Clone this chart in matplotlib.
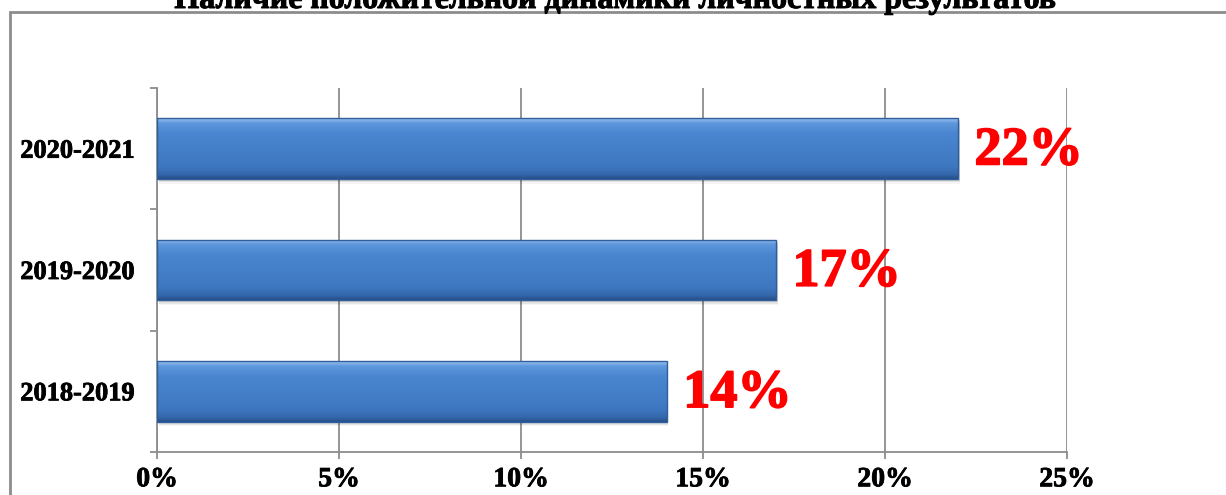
import numpy as np
import matplotlib
matplotlib.use("Agg")
import matplotlib.pyplot as plt
import matplotlib.patheffects as pe
from matplotlib.colors import LinearSegmentedColormap
from matplotlib.patches import Rectangle

# data
years = ["2018-2019", "2019-2020", "2020-2021"]
shares = [14, 17, 22]
x_ticks = [0, 5, 10, 15, 20, 25]
title = "Наличие положительной динамики личностных результатов"

plt.rcParams["font.family"] = ["Liberation Serif", "DejaVu Serif"]
plt.rcParams["font.weight"] = "bold"


def bold(lw, c="black"):
    # fake heavier strokes, the serif face comes out thin
    return [pe.withStroke(linewidth=lw, foreground=c)]


fig = plt.figure(figsize=(12.26, 4.95), dpi=100)

# outer chart frame (runs off the right and bottom of the picture)
fig.add_artist(Rectangle((10 / 1226, -0.1), 1.2, 1 - 12 / 495 + 0.1,
                         transform=fig.transFigure, fill=False,
                         edgecolor="#8c8c8c", linewidth=2))
fig.text(617 / 1226, 1 - 8 / 495, title, ha="center", va="baseline",
         fontsize=23, fontweight="bold", path_effects=bold(0.7))

ax = fig.add_axes([157 / 1226, 43 / 495, (1067 - 157) / 1226, (452 - 88) / 495])

pos = np.arange(len(years))
h = 0.5
bars = ax.barh(pos, shares, height=h, color="#3f7cc8", zorder=3)

# shaded look of the bars
grad = LinearSegmentedColormap.from_list(
    "bar", [(0, "#9cc3ef"), (0.08, "#5e97dc"), (0.25, "#4a86d0"),
            (0.8, "#3d77c0"), (0.93, "#3466aa"), (1, "#264f88")])
g = np.linspace(0, 1, 200).reshape(-1, 1)
for b, v, p in zip(bars, shares, pos):
    # soft shadow below
    for k, a in enumerate([0.10, 0.07, 0.04]):
        ax.add_patch(Rectangle((0.05, p - h / 2 - 0.015 - k * 0.012), v,
                               h, color="black", alpha=a, zorder=2,
                               linewidth=0))
    im = ax.imshow(g, cmap=grad, aspect="auto", zorder=4,
                   extent=(0, v, p - h / 2, p + h / 2))
    im.set_clip_path(b)
    ax.add_patch(Rectangle((0, p - h / 2), v, h, fill=False,
                           edgecolor="#2f5e9c", linewidth=1, zorder=5))
    ax.annotate(f"{v}%", xy=(v, p), xytext=(12, -2), textcoords="offset points",
                ha="left", va="center", color="red", fontsize=39,
                fontweight="bold", zorder=6, path_effects=bold(1.2, "red"))

ax.set_xlim(0, 25)
ax.set_ylim(-0.5, len(years) - 0.5)
ax.set_xticks(x_ticks)
ax.set_xticklabels([f"{t}%" for t in x_ticks], fontsize=20, fontweight="bold")
ax.set_yticks(pos)
ax.set_yticklabels(years, fontsize=19, fontweight="bold")
for t in ax.get_xticklabels() + ax.get_yticklabels():
    t.set_path_effects(bold(0.6))
ax.set_yticks(np.arange(len(years) + 1) - 0.5, minor=True)
ax.tick_params(axis="y", which="major", length=0, pad=16)
ax.tick_params(axis="y", which="minor", length=5, color="#8c8c8c", width=1.3)
ax.tick_params(axis="x", length=5, color="#8c8c8c", width=1.3, pad=6)
ax.grid(axis="x", color="#8c8c8c", linewidth=1.3, zorder=1)
ax.set_axisbelow(True)
for s in ["top", "right"]:
    ax.spines[s].set_visible(False)
for s in ["left", "bottom"]:
    ax.spines[s].set_color("#8c8c8c")
    ax.spines[s].set_linewidth(1.3)

fig.savefig("out.png", dpi=100)
